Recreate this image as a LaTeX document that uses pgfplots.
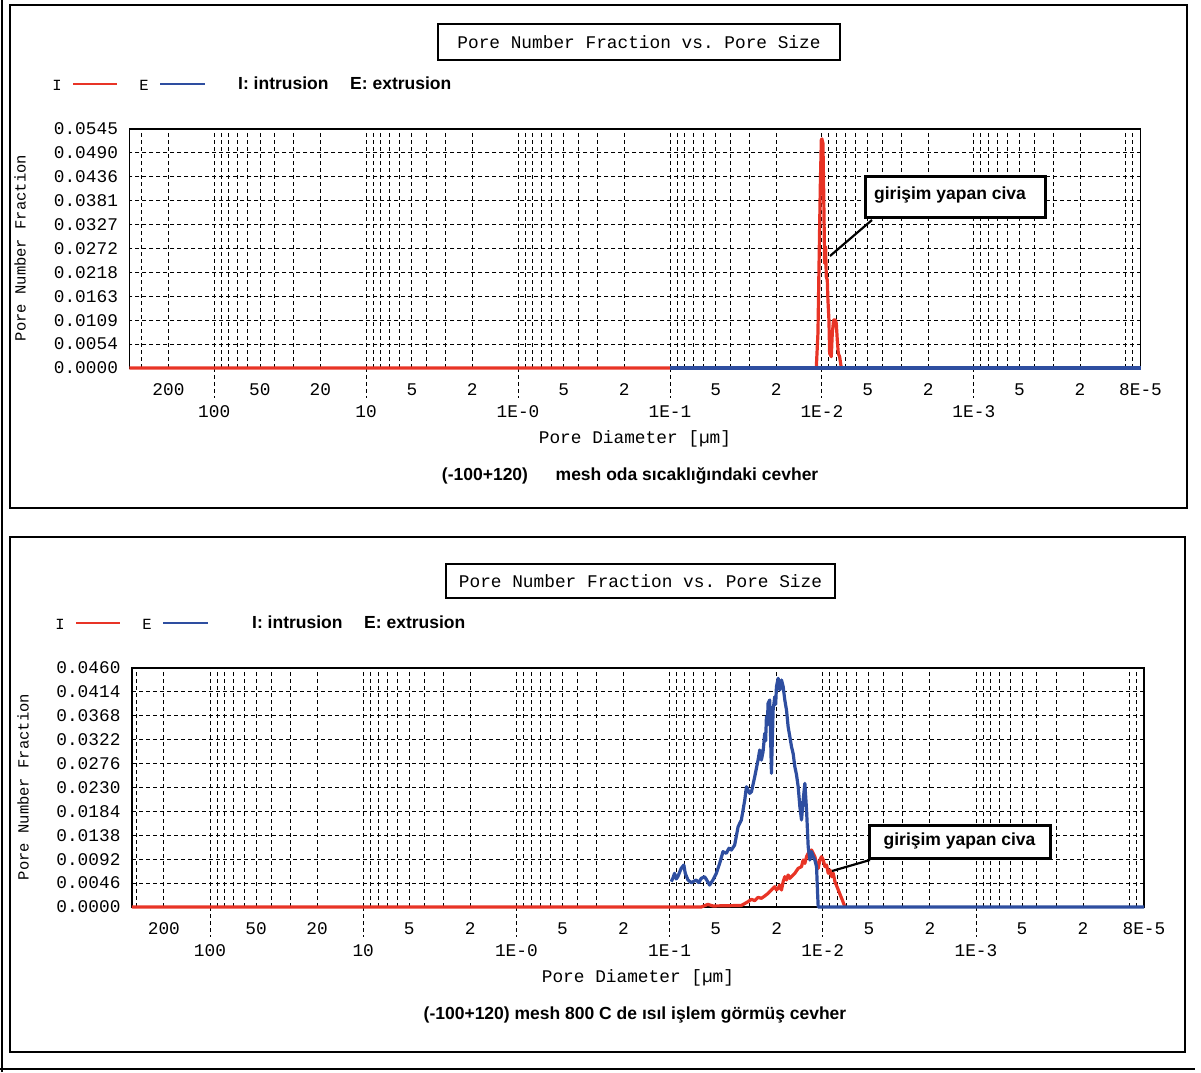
\documentclass[border=0pt]{standalone}
\usepackage{fontspec}
\setmainfont{Liberation Sans}
\setsansfont{Liberation Sans}
\setmonofont{Liberation Mono}
\usepackage{pgfplots}
\pgfplotsset{compat=1.18}
\definecolor{ired}{RGB}{232,52,38}
\definecolor{eblue}{RGB}{46,78,160}
\newcommand{\monof}{\fontsize{17.8}{17.8}\selectfont\ttfamily}
\newcommand{\monos}{\fontsize{15.5}{15.5}\selectfont\ttfamily}
\newcommand{\boldf}{\fontsize{17.5}{17.5}\selectfont\sffamily\bfseries}

\begin{document}
\begin{tikzpicture}[x=1pt,y=1pt]
\useasboundingbox (0,0) rectangle (1201,1072);
% outer borders
\draw[line width=2.5pt] (2,0) -- (2,1072);
\draw[line width=2pt] (0,3) -- (1195,3);
\draw[line width=1.4pt] (10,1067) rectangle (1187,564);
\draw[line width=1.4pt] (10,535) rectangle (1185,20);

% ================= TOP PANEL =================
\begin{axis}[xmode=log, x dir=reverse,
    scale only axis, width=1011pt, height=239pt,
    xmin=8e-5, ymin=0, clip=false, scaled y ticks=false,
    axis line style={black, line width=1.6pt},
    xmajorgrids=true, xminorgrids=true, ymajorgrids=true,
    major grid style={black, dash pattern=on 4pt off 3pt, line width=0.85pt},
    minor grid style={black, dash pattern=on 4pt off 3pt, line width=0.85pt},
    major tick length=0pt, minor tick length=0pt,
    xtick={100,10,1,0.1,0.01,0.001},
    xticklabels={100,10,1E-0,1E-1,1E-2,1E-3},
    minor xtick={0.00009,0.0001,0.0002,0.0003,0.0004,0.0005,0.0006,0.0007,0.0008,0.0009,0.002,0.003,0.004,0.005,0.006,0.007,0.008,0.009,0.02,0.03,0.04,0.05,0.06,0.07,0.08,0.09,0.2,0.3,0.4,0.5,0.6,0.7,0.8,0.9,2,3,4,5,6,7,8,9,20,30,40,50,60,70,80,90,200,300},
    xticklabel style={font=\monof, anchor=center, yshift=-44pt},
    extra x ticks={200,50,20,5,2,0.5,0.2,0.05,0.02,0.005,0.002,0.0005,0.0002,0.00008},
    extra x tick labels={200,50,20,5,2,5,2,5,2,5,2,5,2,8E-5},
    extra x tick style={grid=none, xticklabel style={yshift=22pt}},
    yticklabel style={font=\monof, xshift=-8pt},
    xlabel={Pore Diameter [µm]},
    xlabel style={font=\monof, at={(axis description cs:0.5,0)}, anchor=center, yshift=-71pt},
  at={(129.5pt,704pt)}, anchor=south west, xmax=361,
  ymax=0.0545,
  ytick={0,0.00545,0.0109,0.01635,0.0218,0.02725,0.0327,0.03815,0.0436,0.04905,0.0545},
  yticklabels={0.0000,0.0054,0.0109,0.0163,0.0218,0.0272,0.0327,0.0381,0.0436,0.0490,0.0545}]
\pgfplotsinvokeforeach{100,10,1,0.1,0.01,0.001}{
  \draw[black, dash pattern=on 4pt off 3pt, line width=0.85pt] (axis cs:#1,0) -- ++(0pt,-30pt);}
\addplot[line width=3.2pt, line join=round, ired] coordinates {
 (361,0) (0.01089,0) (0.01062,0.0079) (0.01046,0.02235) (0.01025,0.04135)
 (0.01009,0.05199) (0.0100,0.05222) (0.009845,0.05123) (0.009745,0.04135)
 (0.009599,0.02387) (0.009455,0.02767) (0.009361,0.02083) (0.009219,0.02007)
 (0.009128,0.01551) (0.00899,0.01095) (0.008898,0.00334) (0.008676,0.00258)
 (0.008546,0.0079) (0.008375,0.01095) (0.008166,0.01095) (0.008043,0.01019)
 (0.007922,0.00638) (0.007803,0.00334) (0.007648,0.00258) (0.007456,0)
};
\addplot[line width=3.2pt, line join=round, eblue] coordinates {(0.1,0) (0.00008,0)};
\end{axis}
\node[font=\monos, rotate=90] at (20,824) {Pore Number Fraction};
\draw[line width=1.4pt] (438,1048) rectangle (840,1012);
\node[font=\monof] at (639,1030) {Pore Number Fraction vs. Pore Size};
\node[font=\monos] at (57,987) {I};
\draw[ired, line width=1.3pt] (73,988) -- (117,988);
\node[font=\monos] at (144,987) {E};
\draw[eblue, line width=1.3pt] (160,988) -- (205,988);
\node[font=\boldf, anchor=west, inner sep=0pt] at (238,989) {I: intrusion};
\node[font=\boldf, anchor=west, inner sep=0pt] at (350,989) {E: extrusion};
\draw[line width=3pt, fill=white] (865,895) rectangle (1045,854);
\node[font=\boldf] at (950,877) {girişim yapan civa};
\draw[line width=2.2pt] (872,852) -- (830,816);
\node[font=\boldf] at (485,596) {(-100+120)};
\node[font=\boldf] at (687,596) {mesh oda sıcaklığındaki cevher};

% ================= BOTTOM PANEL =================
\begin{axis}[xmode=log, x dir=reverse,
    scale only axis, width=1012pt, height=239pt,
    xmin=8e-5, ymin=0, clip=false, scaled y ticks=false,
    axis line style={black, line width=1.6pt},
    xmajorgrids=true, xminorgrids=true, ymajorgrids=true,
    major grid style={black, dash pattern=on 4pt off 3pt, line width=0.85pt},
    minor grid style={black, dash pattern=on 4pt off 3pt, line width=0.85pt},
    major tick length=0pt, minor tick length=0pt,
    xtick={100,10,1,0.1,0.01,0.001},
    xticklabels={100,10,1E-0,1E-1,1E-2,1E-3},
    minor xtick={0.00009,0.0001,0.0002,0.0003,0.0004,0.0005,0.0006,0.0007,0.0008,0.0009,0.002,0.003,0.004,0.005,0.006,0.007,0.008,0.009,0.02,0.03,0.04,0.05,0.06,0.07,0.08,0.09,0.2,0.3,0.4,0.5,0.6,0.7,0.8,0.9,2,3,4,5,6,7,8,9,20,30,40,50,60,70,80,90,200,300},
    xticklabel style={font=\monof, anchor=center, yshift=-44pt},
    extra x ticks={200,50,20,5,2,0.5,0.2,0.05,0.02,0.005,0.002,0.0005,0.0002,0.00008},
    extra x tick labels={200,50,20,5,2,5,2,5,2,5,2,5,2,8E-5},
    extra x tick style={grid=none, xticklabel style={yshift=22pt}},
    yticklabel style={font=\monof, xshift=-8pt},
    xlabel={Pore Diameter [µm]},
    xlabel style={font=\monof, at={(axis description cs:0.5,0)}, anchor=center, yshift=-71pt},
  at={(132pt,165pt)}, anchor=south west, xmax=323,
  ymax=0.046,
  ytick={0,0.0046,0.0092,0.0138,0.0184,0.023,0.0276,0.0322,0.0368,0.0414,0.046},
  yticklabels={0.0000,0.0046,0.0092,0.0138,0.0184,0.0230,0.0276,0.0322,0.0368,0.0414,0.0460}]
\pgfplotsinvokeforeach{100,10,1,0.1,0.01,0.001}{
  \draw[black, dash pattern=on 4pt off 3pt, line width=0.85pt] (axis cs:#1,0) -- ++(0pt,-30pt);}
\addplot[line width=3.2pt, line join=round, ired] coordinates {
 (323,0) (0.0621,0) (0.0562,0.0005) (0.0521,0.0002) (0.0340,0.0003)
 (0.03075,0.00103) (0.0292,0.00148) (0.0278,0.00122) (0.02645,0.00186)
 (0.02515,0.00167) (0.02392,0.00212) (0.02275,0.00263) (0.02163,0.00327)
 (0.02057,0.00391) (0.02006,0.00327) (0.01956,0.00359) (0.01908,0.00423)
 (0.01860,0.00327) (0.01814,0.00488) (0.01769,0.00584) (0.01725,0.00520)
 (0.01683,0.00616) (0.01641,0.00552) (0.01600,0.00584) (0.01522,0.00648)
 (0.01447,0.00744) (0.01376,0.00776) (0.01342,0.00905) (0.01309,0.00840)
 (0.01276,0.00969) (0.01245,0.01033) (0.01214,0.01065) (0.01184,0.01097)
 (0.01126,0.00969) (0.01098,0.00840) (0.01071,0.00744) (0.01044,0.00905)
 (0.01018,0.00969) (0.00993,0.00905) (0.00968,0.00776) (0.00944,0.00808)
 (0.00921,0.00648) (0.00898,0.00712) (0.00876,0.00584) (0.00854,0.00648)
 (0.00833,0.00488) (0.00792,0.00327) (0.00753,0.00167) (0.00716,0)
};
\addplot[line width=3.2pt, line join=round, eblue] coordinates {
 (0.0976,0.00488) (0.0950,0.00560) (0.0928,0.00648) (0.0905,0.00540) (0.0883,0.00584) (0.0840,0.00744)
 (0.0807,0.00808) (0.0790,0.00648) (0.0759,0.00520) (0.0722,0.00468)
 (0.0670,0.00520) (0.0645,0.00470) (0.0621,0.00552) (0.0591,0.00584) (0.0576,0.00533)
 (0.0548,0.00423) (0.0521,0.00520) (0.0495,0.00648) (0.0471,0.00840)
 (0.0448,0.01065) (0.0426,0.01033) (0.0410,0.01130) (0.0395,0.01097) (0.0376,0.01193)
 (0.0357,0.01546) (0.0340,0.01675) (0.0323,0.02060) (0.0315,0.02316)
 (0.0300,0.02188) (0.0292,0.02220) (0.0278,0.02509) (0.02645,0.02829)
 (0.0258,0.03022) (0.02515,0.02829) (0.02453,0.02990) (0.02392,0.03343)
 (0.02360,0.03200) (0.02332,0.03663) (0.02300,0.03500) (0.02275,0.03920) (0.02218,0.03984) (0.02163,0.02573)
 (0.02109,0.03792) (0.02057,0.04048) (0.02030,0.03900) (0.02006,0.04241) (0.01956,0.04401)
 (0.01908,0.04177) (0.01860,0.04369) (0.01814,0.04241) (0.01769,0.03984)
 (0.01725,0.03792) (0.01683,0.03471) (0.01641,0.03279) (0.01600,0.03086)
 (0.01560,0.02950) (0.01522,0.02701) (0.01485,0.02550) (0.01447,0.02316) (0.01411,0.01931) (0.01376,0.01675)
 (0.01342,0.02060) (0.01309,0.02380) (0.01276,0.01867) (0.01245,0.01161)
 (0.01214,0.00905) (0.01184,0.01065) (0.01155,0.00969) (0.01126,0.00905)
 (0.01098,0.00776) (0.01081,0.00263) (0.01071,0) (0.00008,0)
};
\end{axis}
\node[font=\monos, rotate=90] at (23,285) {Pore Number Fraction};
\draw[line width=1.4pt] (446,508) rectangle (835,474);
\node[font=\monof] at (640.5,491) {Pore Number Fraction vs. Pore Size};
\node[font=\monos] at (60,448) {I};
\draw[ired, line width=1.3pt] (76,449) -- (120,449);
\node[font=\monos] at (147,448) {E};
\draw[eblue, line width=1.3pt] (163,449) -- (208,449);
\node[font=\boldf, anchor=west, inner sep=0pt] at (252,450) {I: intrusion};
\node[font=\boldf, anchor=west, inner sep=0pt] at (364,450) {E: extrusion};
\draw[line width=3pt, fill=white] (869,247) rectangle (1050,214);
\node[font=\boldf] at (959.5,231) {girişim yapan civa};
\draw[line width=2.2pt] (870,212) -- (832,201);
\node[font=\boldf] at (635,57) {(-100+120) mesh 800 C de ısıl işlem görmüş cevher};
\end{tikzpicture}
\end{document}
